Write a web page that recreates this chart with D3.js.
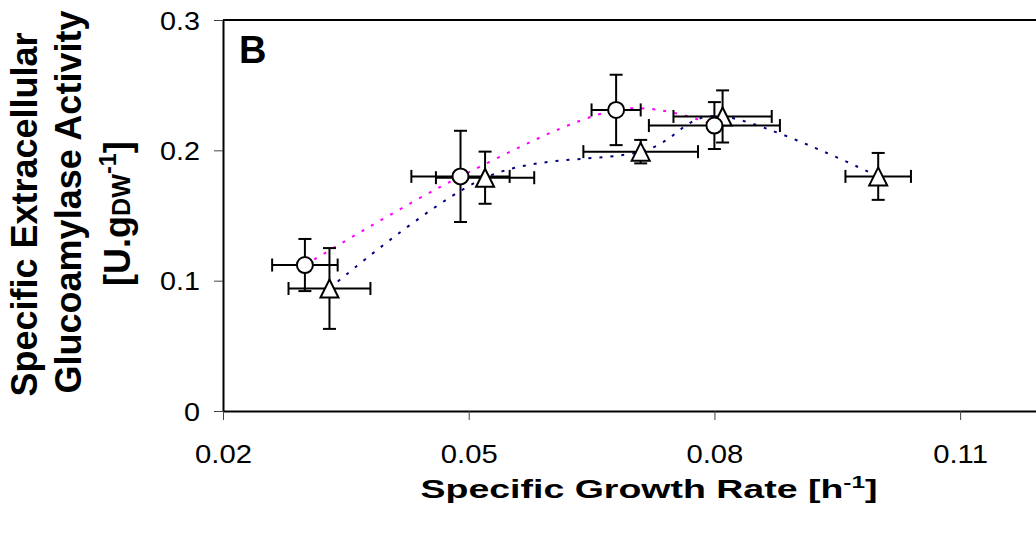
<!DOCTYPE html>
<html>
<head>
<meta charset="utf-8">
<script src="https://cdn.jsdelivr.net/npm/d3@7.9.0/dist/d3.min.js"></script>
<style>
  body { margin: 0; background: #fff; }
  svg { display: block; font-family: "Liberation Sans", Arial, sans-serif; }
</style>
</head>
<body>
<svg id="chart" width="1036" height="540"></svg>
<script>
// circles (magenta line)
const circleMu = [0.030, 0.049, 0.068, 0.080];
const circleAct = [0.112, 0.180, 0.231, 0.219];
const circleMuErr = [0.004, 0.006, 0.003, 0.008];
const circleActErr = [0.020, 0.035, 0.027, 0.018];

// triangles (navy line)
const triMu = [0.033, 0.052, 0.071, 0.081, 0.100];
const triAct = [0.094, 0.179, 0.199, 0.226, 0.180];
const triMuErr = [0.005, 0.006, 0.007, 0.006, 0.004];
const triActErr = [0.031, 0.020, 0.009, 0.020, 0.018];

const xTicks = [0.02, 0.05, 0.08, 0.11];
const yTicks = [0, 0.1, 0.2, 0.3];

const svg = d3.select('#chart');

let x = d3.scaleLinear().domain([0.02, 0.12]).range([223, 1042]);
let y = d3.scaleLinear().domain([0, 0.3]).range([411, 20]);

function series(mu, act, muErr, actErr) {
    return mu.map((m, i) => ({ mu: m, act: act[i], muErr: muErr[i], actErr: actErr[i] }));
}
const circles = series(circleMu, circleAct, circleMuErr, circleActErr);
const triangles = series(triMu, triAct, triMuErr, triActErr);

// frame top line
svg.append('line')
   .attr('x1', x.range()[0]).attr('x2', x.range()[1])
   .attr('y1', y(0.3)).attr('y2', y(0.3))
   .attr('stroke', '#000').attr('stroke-width', 2);

// axes
let yAxis = svg.append('g')
    .attr('transform', `translate(${x(0.02)},0)`)
    .call(d3.axisLeft(y).tickValues(yTicks).tickSize(9).tickSizeOuter(0)
          .tickFormat(d => d === 0 ? '0' : d3.format('.1f')(d)));
let xAxis = svg.append('g')
    .attr('transform', `translate(0,${y(0)})`)
    .call(d3.axisBottom(x).tickValues(xTicks).tickSize(9).tickSizeOuter(0)
          .tickFormat(d3.format('.2f')));

[xAxis, yAxis].forEach(ax => {
    ax.select('.domain').attr('stroke', '#000').attr('stroke-width', 2);
    ax.selectAll('.tick line').attr('stroke', '#444').attr('stroke-width', 1);
    ax.selectAll('.tick text').attr('fill', '#000').attr('font-size', 25);
});
// labels are a little wider than plain Arial in the original
yAxis.selectAll('.tick text')
     .attr('x', -23 / 1.15).attr('dy', 0).attr('y', 9)
     .attr('text-anchor', 'end')
     .attr('transform', 'scale(1.15,1)');
xAxis.selectAll('.tick text')
     .attr('x', 0).attr('y', 52).attr('dy', 0)
     .attr('transform', 'scale(1.17,1)');

// lines (smoothed like the original)
let line = d3.line()
    .x(d => x(d.mu))
    .y(d => y(d.act))
    .curve(d3.curveCardinal.tension(0));

svg.append('path').datum(circles)
   .attr('d', line).attr('fill', 'none')
   .attr('stroke', '#ff00ff').attr('stroke-width', 2)
   .attr('stroke-dasharray', '3,8');
svg.append('path').datum(triangles)
   .attr('d', line).attr('fill', 'none')
   .attr('stroke', '#000080').attr('stroke-width', 2)
   .attr('stroke-dasharray', '3,8');

// error bars
const cap = 6.5;
function errorBars(data) {
    let g = svg.append('g').attr('stroke', '#000').attr('stroke-width', 2);
    data.forEach(d => {
        let cx = x(d.mu), cy = y(d.act);
        let x0 = x(d.mu - d.muErr), x1 = x(d.mu + d.muErr);
        let y0 = y(d.act - d.actErr), y1 = y(d.act + d.actErr);
        g.append('line').attr('x1', x0).attr('x2', x1).attr('y1', cy).attr('y2', cy);
        g.append('line').attr('x1', x0).attr('x2', x0).attr('y1', cy - cap).attr('y2', cy + cap);
        g.append('line').attr('x1', x1).attr('x2', x1).attr('y1', cy - cap).attr('y2', cy + cap);
        g.append('line').attr('x1', cx).attr('x2', cx).attr('y1', y0).attr('y2', y1);
        g.append('line').attr('x1', cx - cap).attr('x2', cx + cap).attr('y1', y0).attr('y2', y0);
        g.append('line').attr('x1', cx - cap).attr('x2', cx + cap).attr('y1', y1).attr('y2', y1);
    });
}
errorBars(triangles);
errorBars(circles);

// markers
svg.append('g').selectAll('path').data(triangles).join('path')
   .attr('transform', d => `translate(${x(d.mu)},${y(d.act)})`)
   .attr('d', 'M0,-9L9,9L-9,9Z')
   .attr('fill', '#fff').attr('stroke', '#000').attr('stroke-width', 2);
svg.append('g').selectAll('circle').data(circles).join('circle')
   .attr('cx', d => x(d.mu)).attr('cy', d => y(d.act)).attr('r', 8)
   .attr('fill', '#fff').attr('stroke', '#000').attr('stroke-width', 2);

// panel letter
svg.append('text').attr('x', 239).attr('y', 63)
   .attr('font-size', 38).attr('font-weight', 'bold').text('B');

// x title
let xt = svg.append('text').attr('font-size', 25.6).attr('font-weight', 'bold')
    .attr('text-anchor', 'middle');
xt.append('tspan').text('Specific Growth Rate [h');
xt.append('tspan').attr('font-size', '65%').attr('dy', -10).text('-1');
xt.append('tspan').attr('dy', 10).text(']');
let xw = xt.node().getBBox().width;
xt.attr('transform', `translate(649,498) scale(${457 / xw},1)`);

// y title, three rotated lines
const yTitle = [
    { text: 'Specific Extracellular', bx: 36.5, cy: 214.5 },
    { text: 'Glucoamylase Activity', bx: 80.5, cy: 202 },
];
yTitle.forEach(l => {
    svg.append('text').attr('font-size', 36).attr('font-weight', 'bold')
       .attr('text-anchor', 'middle')
       .attr('transform', `translate(${l.bx},${l.cy}) rotate(-90)`)
       .text(l.text);
});
let y3 = svg.append('text').attr('font-size', 36).attr('font-weight', 'bold')
    .attr('text-anchor', 'middle')
    .attr('transform', 'translate(130,213.5) rotate(-90)');
y3.append('tspan').text('[U.g');
y3.append('tspan').attr('font-size', '70%').text('DW');
y3.append('tspan').attr('font-size', '65%').attr('dy', -14).text('-1');
y3.append('tspan').attr('dy', 14).text(']');
</script>
</body>
</html>
